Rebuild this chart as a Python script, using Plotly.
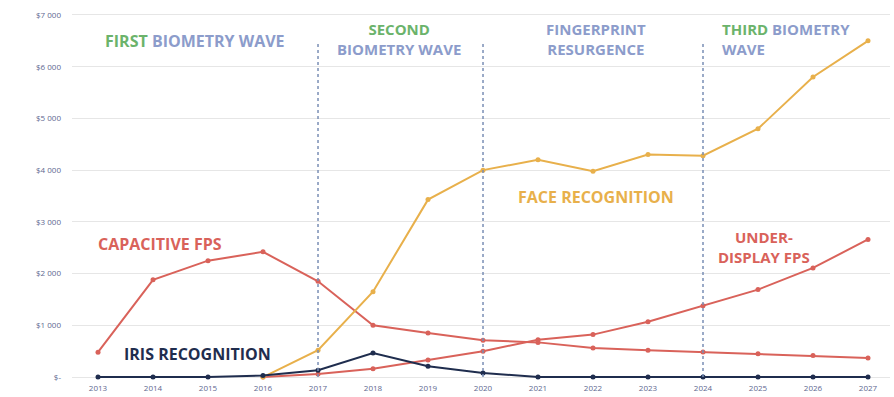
import plotly.graph_objects as go

years = list(range(2013, 2028))
face = [None, None, None, 0, 520, 1650, 3430, 4000, 4200, 3980, 4300, 4280, 4800, 5800, 6500]
capacitive = [480, 1880, 2250, 2420, 1850, 1000, 850, 710, 670, 560, 520, 485, 450, 415, 370]
under_display = [None, None, None, 0, 60, 160, 330, 500, 720, 820, 1070, 1380, 1690, 2110, 2660]
iris = [0, 0, 0, 30, 130, 465, 210, 77, 0, 0, 0, 0, 0, 0, 0]

y_ticks = [0, 1000, 2000, 3000, 4000, 5000, 6000, 7000]
y_labels = ["$-", "$1 000", "$2 000", "$3 000", "$4 000", "$5 000", "$6 000", "$7 000"]
era_bounds = [2017, 2020, 2024]
era_line_top = 6480

RED = "#D9625A"
ORANGE = "#E8B04B"
NAVY = "#1F2D4E"
GREEN = "#6BB36B"
BLUEGRAY = "#8C9CCB"
FONT = "Open Sans"

fig = go.Figure()
for vals, col in [(capacitive, RED), (under_display, RED), (face, ORANGE), (iris, NAVY)]:
    fig.add_trace(go.Scatter(x=years, y=vals, mode="lines+markers",
                             line=dict(color=col, width=2),
                             marker=dict(color=col, size=5),
                             showlegend=False))

for b in era_bounds:
    fig.add_shape(type="line", xref="x", yref="y", x0=b, x1=b, y0=0, y1=era_line_top,
                  line=dict(color="#7A8FB5", width=1.5, dash="dot"), layer="above")

def ann(x, y, text, color, size=16, xanchor="center", align="center"):
    fig.add_annotation(x=x, y=y, xref="x", yref="y", text="<b>" + text + "</b>", showarrow=False,
                       font=dict(family=FONT, size=size, color=color),
                       xanchor=xanchor, yanchor="middle", align=align)

g = lambda t: f"<span style='color:{GREEN}'>{t}</span>"
ann(2014.76, 6501, g("FIRST") + " BIOMETRY WAVE", BLUEGRAY)
ann(2018.47, 6540, g("SECOND") + "<br>BIOMETRY WAVE", BLUEGRAY, size=15)
ann(2022.05, 6540, "FINGERPRINT<br>RESURGENCE", BLUEGRAY, size=15)
ann(2024.3, 6540, g("THIRD") + " BIOMETRY<br>WAVE", BLUEGRAY, size=15, xanchor="left", align="left")
ann(2012.96, 2570, "CAPACITIVE FPS", RED, xanchor="left")
ann(2013.43, 441, "IRIS RECOGNITION", NAVY, xanchor="left")
ann(2020.6, 3490, "FACE RECOGNITION", ORANGE, xanchor="left")
ann(2025.1, 2512, "UNDER-<br>DISPLAY FPS", RED, size=15)

fig.update_layout(
    width=894, height=397,
    margin=dict(l=72, r=4, t=10, b=12),
    plot_bgcolor="white", paper_bgcolor="white",
    xaxis=dict(range=[2012.527, 2027.4], tickvals=years, ticktext=[str(y) for y in years],
               showgrid=False, zeroline=False, showline=False,
               tickfont=dict(family=FONT, size=8, color="#5E6890"), ticks=""),
    yaxis=dict(range=[-96, 7096], tickvals=y_ticks, ticktext=y_labels,
               showgrid=True, gridcolor="#E6E6E6", gridwidth=1, zeroline=False,
               showline=False, ticks="", ticklabelstandoff=10,
               tickfont=dict(family=FONT, size=8, color="#5E6890")),
)

fig.write_html("out.html")
